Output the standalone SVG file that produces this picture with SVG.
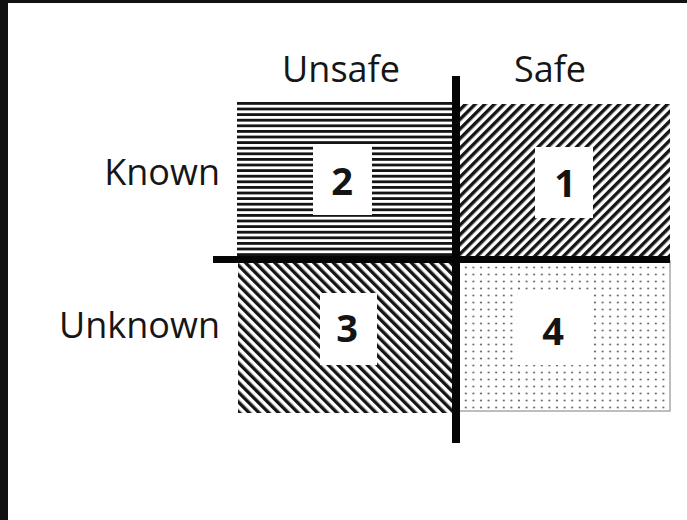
<svg xmlns="http://www.w3.org/2000/svg" width="687" height="520" viewBox="0 0 687 520">
  <defs>
    <!-- fill patterns for the four quadrants -->
    <pattern id="hlines" patternUnits="userSpaceOnUse" x="0" y="102" width="10" height="5.6">
      <rect x="0" y="0" width="10" height="2.8" fill="#151515"/>
    </pattern>
    <pattern id="diagUp" patternUnits="userSpaceOnUse" width="6.8" height="10" patternTransform="rotate(45)">
      <rect x="0" y="0" width="3.4" height="10" fill="#151515"/>
    </pattern>
    <pattern id="diagDown" patternUnits="userSpaceOnUse" width="6.9" height="10" patternTransform="rotate(-45)">
      <rect x="0" y="0" width="3.4" height="10" fill="#151515"/>
    </pattern>
    <pattern id="dots" patternUnits="userSpaceOnUse" x="462" y="264" width="7.6" height="7">
      <circle cx="3.8" cy="3.5" r="1.1" fill="#6a6a6a"/>
    </pattern>
  </defs>
  <style>
    .lbl { font-family: "Open Sans", "Liberation Sans", sans-serif; font-size: 36px; fill: #161616; }
    .num { font-family: "Open Sans", "Liberation Sans", sans-serif; font-size: 38px; font-weight: bold; fill: #141414; text-anchor: middle; }
    .tag { fill: #ffffff; }
    .axis { fill: #050505; }
  </style>

  <!-- page background and dark frame edges -->
  <rect x="0" y="0" width="687" height="520" fill="#ffffff"/>
  <rect x="0" y="0" width="687" height="3" fill="#111111"/>
  <rect x="0" y="0" width="8" height="520" fill="#111111"/>

  <!-- axis headings -->
  <text class="lbl" x="341" y="82" text-anchor="middle">Unsafe</text>
  <text class="lbl" x="550" y="82" text-anchor="middle">Safe</text>
  <text class="lbl" x="220" y="185" text-anchor="end">Known</text>
  <text class="lbl" x="220" y="338" text-anchor="end">Unknown</text>

  <!-- quadrant 2: known / unsafe -->
  <g id="q2">
    <rect x="237" y="102" width="218" height="156" fill="url(#hlines)"/>
    <rect class="tag" x="313" y="145" width="59" height="70"/>
    <text class="num" x="342" y="195">2</text>
  </g>

  <!-- quadrant 1: known / safe -->
  <g id="q1">
    <rect x="458" y="104" width="212" height="154" fill="url(#diagUp)"/>
    <rect class="tag" x="535" y="147" width="58" height="71"/>
    <text class="num" x="565" y="197">1</text>
  </g>

  <!-- quadrant 3: unknown / unsafe -->
  <g id="q3">
    <rect x="238" y="260" width="216" height="153" fill="url(#diagDown)"/>
    <rect class="tag" x="320" y="293" width="57" height="72"/>
    <text class="num" x="347" y="342">3</text>
  </g>

  <!-- quadrant 4: unknown / safe -->
  <g id="q4">
    <rect x="459" y="261" width="211" height="150" fill="url(#dots)" stroke="#a8a8a8" stroke-width="1.5"/>
    <rect class="tag" x="518" y="293" width="74" height="72"/>
    <text class="num" x="553" y="345">4</text>
  </g>

  <!-- axes dividing the quadrants -->
  <g id="connectors">
    <rect class="axis" x="452" y="76" width="8" height="367"/>
    <rect class="axis" x="213" y="256" width="457" height="7"/>
  </g>
</svg>
